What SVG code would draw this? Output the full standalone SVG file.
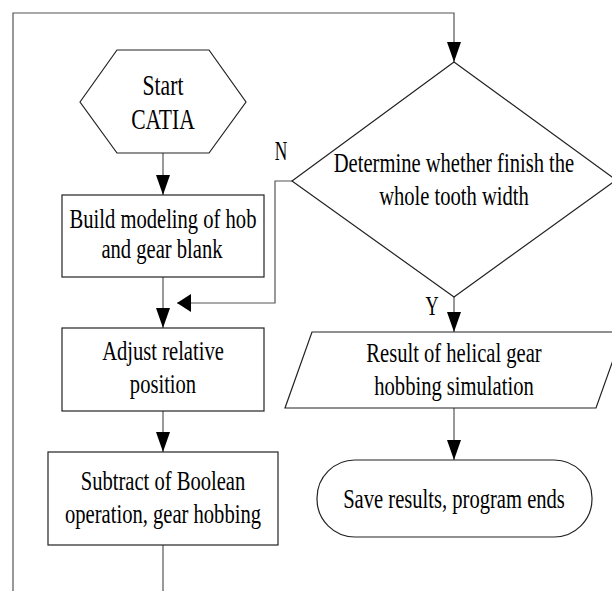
<svg xmlns="http://www.w3.org/2000/svg" width="612" height="591" viewBox="0 0 612 591">
<defs>
<style>
.shape{fill:#fff;stroke:#222;stroke-width:1.2}
.conn{fill:none;stroke:#555;stroke-width:1.2}
text{font-family:"Liberation Serif","Times New Roman",serif;font-size:28px;fill:#000;text-anchor:middle}
.big{font-size:30px}
</style>
<marker id="arr" markerUnits="userSpaceOnUse" markerWidth="20" markerHeight="14" refX="20" refY="7" orient="auto"><path d="M0,0 L20,7 L0,14 Z" fill="#000"/></marker>
<marker id="arrh" markerUnits="userSpaceOnUse" markerWidth="14" markerHeight="18" refX="14" refY="9" orient="auto"><path d="M0,0 L14,9 L0,18 Z" fill="#000"/></marker>
</defs>
<rect width="612" height="591" fill="#fff"/>
<g id="connectors">
<path class="conn" d="M13,591 V13 H454 V62" marker-end="url(#arr)"/>
<path class="conn" d="M163,153 V195" marker-end="url(#arr)"/>
<path class="conn" d="M163,277 V328" marker-end="url(#arr)"/>
<path class="conn" d="M163,411 V452" marker-end="url(#arr)"/>
<path class="conn" d="M163,545 V591"/>
<path class="conn" d="M292,181 H275 V303 H177" marker-end="url(#arrh)"/>
<path class="conn" d="M454,297 V332" marker-end="url(#arr)"/>
<path class="conn" d="M454,408 V460" marker-end="url(#arr)"/>
<text transform="translate(281,160) scale(0.62,1)">N</text>
<text transform="translate(432,315) scale(0.65,1)">Y</text>
</g>
<g id="start">
<polygon class="shape" points="80,102 117,50 209,50 246,102 209,153 117,153"/>
<text class="big" transform="translate(163,95) scale(0.72,1)">Start</text>
<text class="big" transform="translate(163,129) scale(0.72,1)">CATIA</text>
</g>
<g id="build">
<rect class="shape" x="62" y="195" width="202" height="82"/>
<text transform="translate(163,228) scale(0.735,1)">Build modeling of hob</text>
<text transform="translate(162,258) scale(0.735,1)">and gear blank</text>
</g>
<g id="adjust">
<rect class="shape" x="62" y="328" width="202" height="83"/>
<text transform="translate(163,360) scale(0.735,1)">Adjust relative</text>
<text transform="translate(163,393) scale(0.735,1)">position</text>
</g>
<g id="subtract">
<rect class="shape" x="48" y="452" width="230" height="93"/>
<text transform="translate(163,490) scale(0.735,1)">Subtract of Boolean</text>
<text transform="translate(163,523) scale(0.735,1)">operation, gear hobbing</text>
</g>
<g id="decision">
<polygon class="shape" points="454,62 616,180 454,297 292,181"/>
<text transform="translate(454,172) scale(0.735,1)">Determine whether finish the</text>
<text transform="translate(454,205) scale(0.735,1)">whole tooth width</text>
</g>
<g id="result">
<polygon class="shape" points="312,332 623,332 596,408 285,408"/>
<text transform="translate(454,362) scale(0.735,1)">Result of helical gear</text>
<text transform="translate(454,395) scale(0.735,1)">hobbing simulation</text>
</g>
<g id="end">
<rect class="shape" x="317" y="460" width="275" height="77" rx="38" ry="38"/>
<text transform="translate(454,508) scale(0.735,1)">Save results, program ends</text>
</g>
</svg>
